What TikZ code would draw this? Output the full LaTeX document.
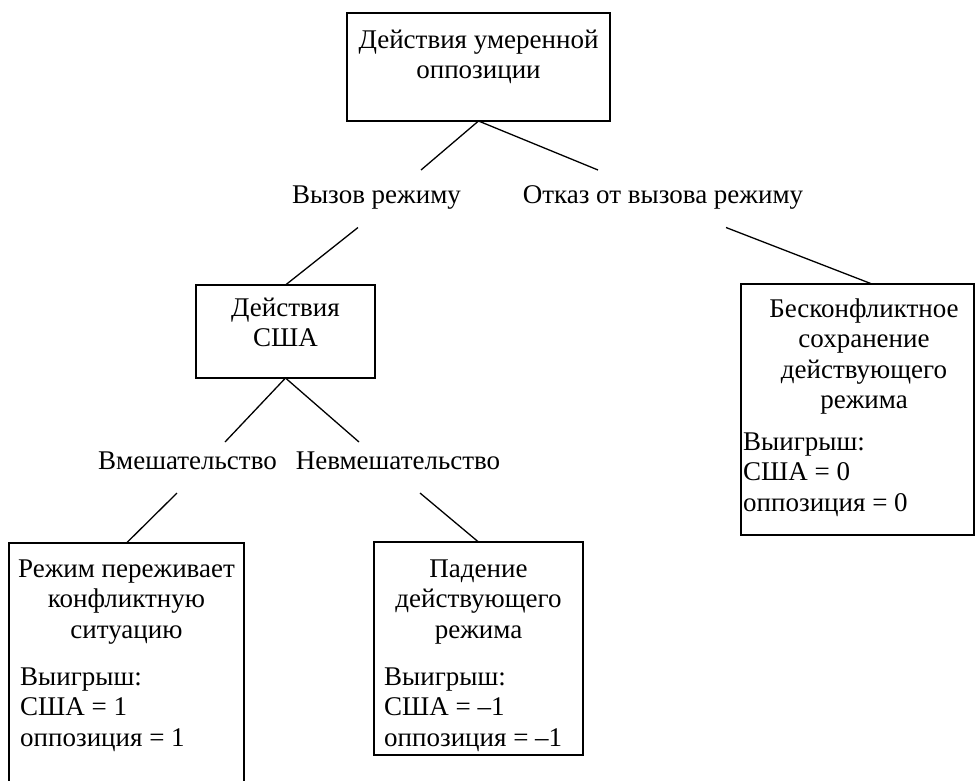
\documentclass[tikz,border=0pt]{standalone}
\usepackage{fontspec}
\setmainfont{Liberation Serif}
\usetikzlibrary{calc}
\newcommand\mystrut{\rule{0pt}{22pt}}
\begin{document}
\begin{tikzpicture}[x=1pt,y=-1pt]
\tikzset{
 boxnode/.style={draw, line width=1.3pt, inner sep=0pt, outer sep=0pt, anchor=north west},
 txt/.style={font=\fontsize{27}{30.5}\selectfont, inner sep=0pt},
 head/.style={txt, align=center, anchor=north},
 pay/.style={txt, align=left, anchor=north west},
 lbl/.style={txt, anchor=base},
 edge/.style={line width=1.3pt}
}
\useasboundingbox (0,0) rectangle (977,780);
\clip (0,0) rectangle (977,780);
% boxes
\node[boxnode, minimum width=263pt, minimum height=108pt] (top) at (347,13) {};
\node[head] (topt) at (478.5,26) {\mystrut Действия умеренной\\оппозиции};

\node[boxnode, minimum width=179pt, minimum height=93pt] (usa) at (196,285) {};
\node[head] (usat) at (285.5,294) {\mystrut Действия\\США};

\node[boxnode, minimum width=235pt, minimum height=270pt] (left) at (9,543) {};
\node[head] (leftt) at (126.5,555) {\mystrut Режим переживает\\конфликтную\\ситуацию};
\node[pay] (leftp) at (20,663) {\mystrut Выигрыш:\\США = 1\\оппозиция = 1};

\node[boxnode, minimum width=209pt, minimum height=213pt] (mid) at (374,542) {};
\node[head] (midt) at (478.5,555) {\mystrut Падение\\действующего\\режима};
\node[pay] (midp) at (384,663) {\mystrut Выигрыш:\\США = –1\\оппозиция = –1};

\node[boxnode, minimum width=233pt, minimum height=251pt] (right) at (741,284) {};
\node[head] (rightt) at (864,295) {\mystrut Бесконфликтное\\сохранение\\действующего\\режима};
\node[pay] (rightp) at (743,428) {\mystrut Выигрыш:\\США = 0\\оппозиция = 0};

% labels
\node[lbl] (l1) at (376.5,203) {Вызов режиму};
\node[lbl] (l2) at (663,203) {Отказ от вызова режиму};
\node[lbl] (l3) at (187.5,469) {Вмешательство};
\node[lbl] (l4) at (398,469) {Невмешательство};

% connector ends near labels
\coordinate (c1) at (421,170);
\coordinate (c2) at (598,170);
\coordinate (c3) at (358,227.5);
\coordinate (c4) at (726,227.5);
\coordinate (c5) at (225,442);
\coordinate (c6) at (359,442);
\coordinate (c7) at (177,493);
\coordinate (c8) at (420,493);

\draw[edge] (top.south) -- (c1);
\draw[edge] (top.south) -- (c2);
\draw[edge] (c3) -- (usa.north);
\draw[edge] (c4) -- ($(right.north)+(14.5,0)$);
\draw[edge] (usa.south) -- (c5);
\draw[edge] (usa.south) -- (c6);
\draw[edge] (c7) -- (left.north);
\draw[edge] (c8) -- (mid.north);
\end{tikzpicture}
\end{document}
